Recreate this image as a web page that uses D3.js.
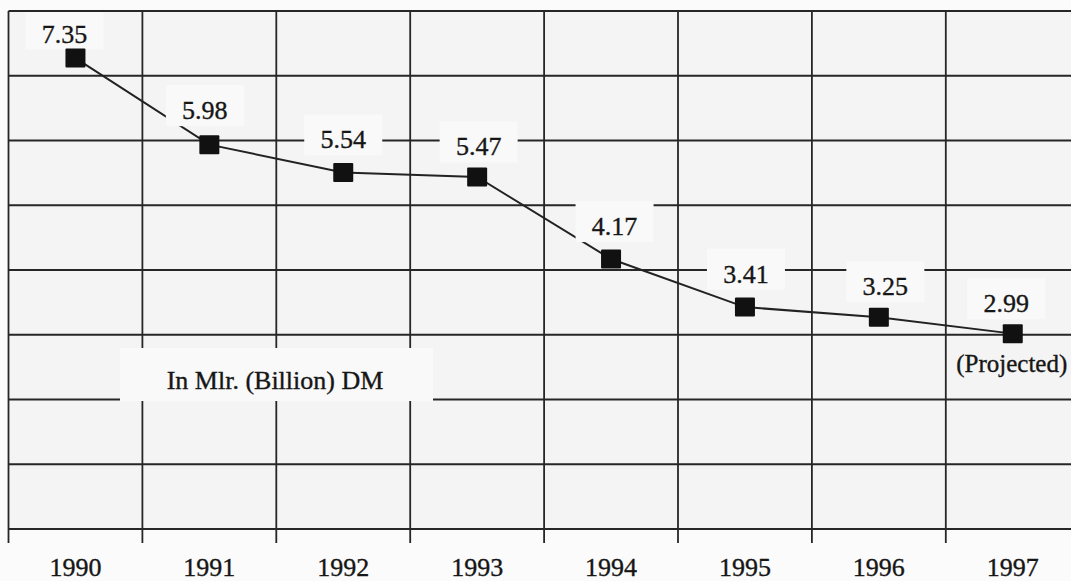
<!DOCTYPE html>
<html>
<head>
<meta charset="utf-8">
<script src="https://cdn.jsdelivr.net/npm/d3@7"></script>
<style>
  html, body { margin: 0; padding: 0; background: #fbfbfb; }
  svg { display: block; }
  text { font-family: "Liberation Serif", "Times New Roman", serif; fill: #161616; stroke: #161616; stroke-width: 0.35px; }
</style>
</head>
<body>
<svg id="chart" width="1071" height="581"></svg>
<script>
// ---- data ----
const years = ["1990", "1991", "1992", "1993", "1994", "1995", "1996", "1997"];
const values = [7.35, 5.98, 5.54, 5.47, 4.17, 3.41, 3.25, 2.99];
const valueLabels = ["7.35", "5.98", "5.54", "5.47", "4.17", "3.41", "3.25", "2.99"];
const projectedYear = "1997";
const projectedText = "(Projected)";
const unitText = "In Mlr. (Billion) DM";
const gridLevels = [0, 1, 2, 3, 4, 5, 6, 7, 8];

// ---- layout ----
const W = 1071, H = 581;
const plotLeft = 8.5, colW = 133.9;
const gridTop = 11, gridBottom = 529, tickBottom = 543;
// small per-label nudges [dx, baseline offset from the marker centre]
const labelShift = [[-11, -15.5], [-4.5, -25.5], [0, -24], [1.5, -21.5],
                    [3.5, -24], [1, -24.5], [6.5, -22], [-6.5, -21.5]];

const svg = d3.select("#chart");

const x = d3.scaleBand().domain(years).range([plotLeft, plotLeft + colW * years.length]);
const y = d3.scaleLinear().domain([0, 8]).range([522.6, 17]);
const gy = d3.scaleLinear().domain([0, 8]).range([gridBottom, gridTop]);
const cx = d => x(d) + x.bandwidth() / 2;

// plot background
svg.append("rect")
  .attr("x", plotLeft).attr("y", gridTop)
  .attr("width", W - plotLeft + 20).attr("height", gridBottom - gridTop)
  .attr("fill", "#f4f4f4");

const gridColor = "#262626";
const gridWidth = 1.8;

// horizontal grid lines (top border drawn later, above label boxes)
svg.append("g").selectAll("line")
  .data(gridLevels.slice(0, -1))
  .join("line")
  .attr("x1", plotLeft).attr("x2", W + 10)
  .attr("y1", d => gy(d)).attr("y2", d => gy(d))
  .attr("stroke", gridColor).attr("stroke-width", gridWidth);

// vertical column separators, running past the bottom line
const colEdges = years.slice(1).map(d => x(d));
svg.append("g").selectAll("line")
  .data(colEdges)
  .join("line")
  .attr("x1", d => d).attr("x2", d => d)
  .attr("y1", gridTop).attr("y2", tickBottom)
  .attr("stroke", gridColor).attr("stroke-width", gridWidth);

// connecting line
const pts = years.map((yr, i) => ({ yr, v: values[i], label: valueLabels[i], i }));
svg.append("path")
  .datum(pts)
  .attr("fill", "none")
  .attr("stroke", "#222")
  .attr("stroke-width", 2)
  .attr("d", d3.line().x(d => cx(d.yr)).y(d => y(d.v)));

// light boxes behind the value labels
const boxW = 78, boxUp = 34, boxDown = 7;
svg.append("g").selectAll("rect")
  .data(pts)
  .join("rect")
  .attr("x", d => cx(d.yr) + labelShift[d.i][0] - boxW / 2)
  .attr("y", d => y(d.v) + labelShift[d.i][1] - boxUp)
  .attr("width", boxW)
  .attr("height", boxUp + boxDown)
  .attr("fill", "#f9f9f9");

// unit caption box and text
svg.append("rect")
  .attr("x", 120).attr("y", 348).attr("width", 313).attr("height", 53)
  .attr("fill", "#f9f9f9");
svg.append("text")
  .attr("x", 275).attr("y", 389)
  .attr("text-anchor", "middle")
  .attr("font-size", 26)
  .text(unitText);

// outer frame: top and left border
svg.append("line")
  .attr("x1", plotLeft).attr("x2", W + 10)
  .attr("y1", gy(8)).attr("y2", gy(8))
  .attr("stroke", gridColor).attr("stroke-width", gridWidth);
svg.append("line")
  .attr("x1", plotLeft).attr("x2", plotLeft)
  .attr("y1", gridTop).attr("y2", tickBottom)
  .attr("stroke", gridColor).attr("stroke-width", gridWidth);

// square markers
const mW = 20, mH = 19;
svg.append("g").selectAll("rect")
  .data(pts)
  .join("rect")
  .attr("x", d => cx(d.yr) - mW / 2)
  .attr("y", d => y(d.v) - mH / 2)
  .attr("width", mW).attr("height", mH)
  .attr("rx", 1)
  .attr("fill", "#111");

// value labels
svg.append("g").selectAll("text")
  .data(pts)
  .join("text")
  .attr("x", d => cx(d.yr) + labelShift[d.i][0])
  .attr("y", d => y(d.v) + labelShift[d.i][1])
  .attr("text-anchor", "middle")
  .attr("font-size", 26)
  .text(d => d.label);

// projection note under the last point
svg.append("text")
  .attr("x", cx(projectedYear) - 1)
  .attr("y", y(values[years.indexOf(projectedYear)]) + 38.5)
  .attr("text-anchor", "middle")
  .attr("font-size", 25)
  .text(projectedText);

// year labels along the bottom
const xAxis = d3.axisBottom(x).tickSize(0).tickPadding(0);
const ax = svg.append("g")
  .attr("transform", `translate(0, 558)`)
  .call(xAxis);
ax.select(".domain").remove();
ax.selectAll("text")
  .attr("font-size", 26)
  .attr("font-family", "Liberation Serif, Times New Roman, serif")
  .attr("fill", "#161616")
  .attr("dy", "0.7em");
</script>
</body>
</html>
